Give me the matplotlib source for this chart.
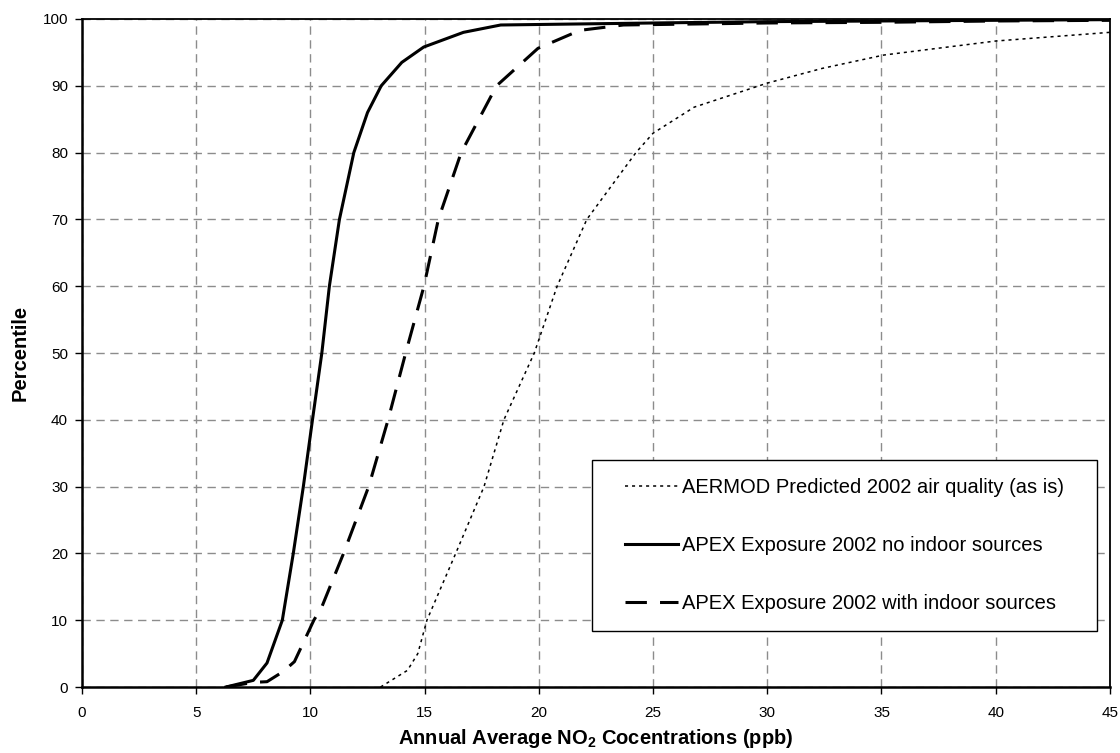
import matplotlib
matplotlib.use("Agg")
import matplotlib.pyplot as plt
from matplotlib.patches import Rectangle

plt.rcParams['font.family'] = ['Liberation Sans', 'DejaVu Sans']
plt.rcParams['mathtext.fontset'] = 'custom'
plt.rcParams['mathtext.rm'] = 'Liberation Sans'
plt.rcParams['mathtext.bf'] = 'Liberation Sans:bold'

# AERMOD predicted air quality (dotted)
aermod_x = [13.07, 14.25, 14.7, 15.1, 16.36, 17.6, 18.47, 19.8, 20.8, 22.1,
            24.25, 25.0, 26.8, 30.0, 32.4, 35.1, 40.0, 45.0]
aermod_p = [0, 2.5, 5, 10, 20, 30, 40, 50, 60, 70,
            80, 82.9, 86.8, 90.4, 92.6, 94.6, 96.7, 98.0]

# APEX exposure, no indoor sources (solid)
noind_x = [6.3, 7.5, 8.1, 8.77, 9.25, 9.69, 10.09, 10.5, 10.83, 11.27, 11.9,
           12.5, 13.1, 14.0, 14.96, 16.7, 18.33, 25, 30, 35, 40, 45]
noind_p = [0, 1, 3.6, 10, 20, 30, 40, 50, 60, 70, 80,
           86, 90, 93.5, 95.8, 98, 99.1, 99.4, 99.6, 99.7, 99.8, 99.9]

# APEX exposure, with indoor sources (dashed)
ind_x = [6.3, 7.5, 8.1, 8.8, 9.3, 10.15, 10.5, 11.45, 12.55, 13.4, 14.17,
         14.97, 15.6, 16.6, 18.15, 19.96, 21.8, 23.7, 30, 35, 40, 45]
ind_p = [0, 0.7, 0.8, 2.3, 3.8, 10, 12, 20, 30, 40, 50,
         60, 70, 80, 90, 95.6, 98.3, 99.1, 99.4, 99.5, 99.7, 99.8]

labels = ['AERMOD Predicted 2002 air quality (as is)',
          'APEX Exposure 2002 no indoor sources',
          'APEX Exposure 2002 with indoor sources']

fig = plt.figure(figsize=(11.2, 7.53), dpi=100)
ax = fig.add_axes([0.0732, 0.0876, 0.9178, 0.8872])

ax.plot(aermod_x, aermod_p, color='black', lw=1.1, ls=(0, (2, 2.6)), label=labels[0])
ax.plot(noind_x, noind_p, color='black', lw=2.2, ls='-', label=labels[1])
ax.plot(ind_x, ind_p, color='black', lw=2.2, ls=(0, (7, 4.3)), label=labels[2])

ax.set_xlim(0, 45)
ax.set_ylim(0, 100)
ax.set_xticks(range(0, 46, 5))
ax.set_yticks(range(0, 101, 10))
ax.tick_params(direction='out', length=5, width=1, labelsize=11, colors='black')
ax.tick_params(axis='x', pad=9)
ax.tick_params(axis='y', pad=5)
ax.grid(True, color='#8c8c8c', lw=1, ls=(0, (6, 4)))
ax.set_axisbelow(True)
for s in ax.spines.values():
    s.set_linewidth(1.3)
    s.set_color('black')
ax.spines['bottom'].set_linewidth(1.8)
ax.spines['left'].set_linewidth(1.8)

ax.set_xlabel(r'Annual Average NO$_\mathbf{2}$ Cocentrations (ppb)',
              fontsize=14.5, fontweight='bold', labelpad=5)
ax.set_ylabel('Percentile', fontsize=14.5, fontweight='bold', labelpad=9)

# legend box (Excel style: fixed frame, content centred)
ax.add_patch(Rectangle((0.4961, 0.0838), 0.4912, 0.256, transform=ax.transAxes,
                       facecolor='white', edgecolor='black', lw=1.0, zorder=4.9))
leg = ax.legend(loc='center', bbox_to_anchor=(0.7417, 0.2118), frameon=False,
                fontsize=14.5, handlelength=2.6, handletextpad=0.2,
                labelspacing=1.95, borderpad=0)
leg.set_zorder(5)

fig.savefig('out.png', dpi=100)
